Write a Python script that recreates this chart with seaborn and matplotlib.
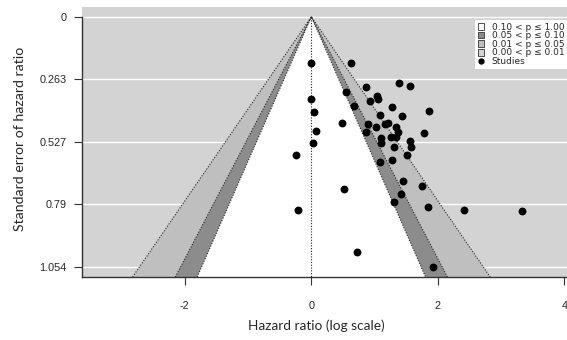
import numpy as np
import pandas as pd
import matplotlib
matplotlib.use("Agg")
import matplotlib.pyplot as plt
import seaborn as sns
from matplotlib.patches import Patch
from matplotlib.lines import Line2D

# ---- data (log hazard ratio, standard error) ----
log_hr = [0.00, 0.63, 1.38, 1.56, 0.87, 0.545, 1.03, 1.06, -0.01, 0.93,
          0.67, 1.27, 1.857, 0.04, 1.087, 1.44, 0.486, 0.90, 1.16, 1.21,
          1.02, 1.33, 0.072, 0.86, 1.37, 1.78, 1.26, 1.33, 1.10, 1.56,
          0.02, 1.10, 1.30, 1.57, -0.25, 1.51, 1.087, 1.28, 1.45, 1.756,
          0.51, 1.41, 1.30, 1.845, -0.21, 2.41, 3.33, 0.725, 1.915]
se_hr = [0.194, 0.194, 0.280, 0.293, 0.295, 0.316, 0.334, 0.348, 0.348, 0.354,
         0.376, 0.382, 0.398, 0.402, 0.412, 0.417, 0.449, 0.452, 0.452, 0.449,
         0.466, 0.466, 0.483, 0.486, 0.486, 0.489, 0.508, 0.508, 0.511, 0.524,
         0.531, 0.531, 0.548, 0.548, 0.583, 0.584, 0.613, 0.604, 0.693, 0.714,
         0.724, 0.749, 0.780, 0.801, 0.816, 0.816, 0.818, 0.992, 1.055]

y_ticks = [0, 0.2635, 0.527, 0.7905, 1.054]
y_tick_labels = ["0", "0.263", "0.527", "0.79", "1.054"]
x_ticks = [-2, 0, 2, 4]
x_tick_labels = ["-2", "0", "2", "4"]

z_levels = [2.576, 1.960, 1.645]          # 99%, 95%, 90%
shade_cols = ["#BFBFBF", "#8C8C8C", "white"]
legend_labels = ["0.10 < p \u2264 1.00", "0.05 < p \u2264 0.10",
                 "0.01 < p \u2264 0.05", "0.00 < p \u2264 0.01", "Studies"]
legend_cols = ["white", "#8C8C8C", "#BFBFBF", "#D3D3D3"]

df = pd.DataFrame({"yi": log_hr, "sei": se_hr})

sns.set_style("white")
plt.rcParams["font.family"] = ["Liberation Sans", "DejaVu Sans"]

W, H = 567, 340
fig = plt.figure(figsize=(W / 100, H / 100), dpi=100)
left_px, right_px, top_px, bot_px = 82.3, 580.3, 7.3, 277
ax = fig.add_axes([left_px / W, 1 - bot_px / H, (right_px - left_px) / W, (bot_px - top_px) / H])

ylim_bot, ylim_top = 1.097, -0.04
ax.set_xlim(-3.62, 4.25)
ax.set_ylim(ylim_bot, ylim_top)
ax.set_facecolor("#D3D3D3")

for yt in y_ticks:
    ax.axhline(yt, color="white", lw=1.0, zorder=0.5)

sb = ylim_bot
for z, c in zip(z_levels, shade_cols):
    ax.fill([0, -z * sb, z * sb], [0, sb, sb], color=c, lw=0, zorder=1)
for z in z_levels:
    ax.plot([-z * sb, 0, z * sb], [sb, 0, sb], ls=(0, (1, 1.5)), color="#222222", lw=0.8, zorder=2)
ax.plot([0, 0], [0, sb], ls=(0, (1, 1.5)), color="#222222", lw=0.8, zorder=2)

sns.scatterplot(data=df, x="yi", y="sei", color="black", s=32, linewidth=0, ax=ax, zorder=5, legend=False)

ax.set_xlabel("")
ax.set_ylabel("")
ax.set_yticks(y_ticks)
ax.set_yticklabels(y_tick_labels)
ax.set_xticks(x_ticks)
ax.set_xticklabels(x_tick_labels)
ax.tick_params(axis="y", direction="out", length=6, width=0.8, pad=5.5, labelsize=7.8, left=True, color="#333333")
ax.tick_params(axis="x", direction="out", length=6, width=0.8, pad=11.5, labelsize=7.8, bottom=True, color="#333333")

for s in ["top", "right"]:
    ax.spines[s].set_visible(False)
for s in ["left", "bottom"]:
    ax.spines[s].set_color("#333333")
    ax.spines[s].set_linewidth(1.0)
ax.spines["left"].set_bounds(0, ylim_bot)

fig.text(316 / W, 1 - 326 / H, "Hazard ratio (log scale)", ha="center", va="center",
         fontsize=9.8, family=["Lato", "DejaVu Sans"])
fig.text(20 / W, 1 - 139 / H, "Standard error of hazard ratio", ha="center", va="center",
         rotation=90, fontsize=10.2, family=["Lato", "DejaVu Sans"])

handles = [Patch(facecolor=c, edgecolor="#333333", linewidth=0.6) for c in legend_cols]
handles.append(Line2D([0], [0], marker="o", color="none", markerfacecolor="black",
                      markeredgecolor="black", markersize=3.5))
leg = fig.legend(handles, legend_labels, loc="upper left", bbox_to_anchor=(475 / W, 1 - 20 / H),
                 bbox_transform=fig.transFigure, frameon=True, fancybox=False,
                 prop={"family": ["DejaVu Sans"], "size": 6.5},
                 framealpha=1, facecolor="white", edgecolor="none", borderpad=0.3,
                 labelspacing=-0.05, handlelength=0.75, handleheight=0.75, handletextpad=0.8,
                 borderaxespad=0)
leg.set_zorder(10)

fig.savefig("out.png", dpi=100)
